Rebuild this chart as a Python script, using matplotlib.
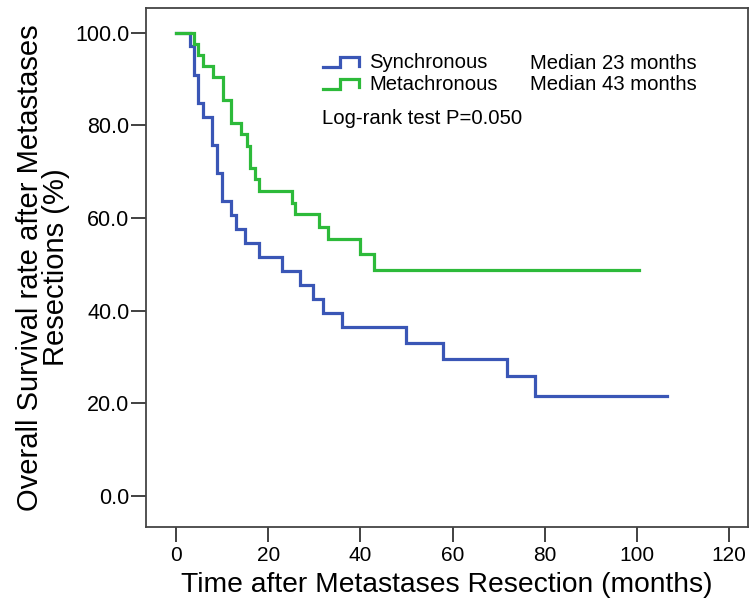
import matplotlib
matplotlib.use('Agg')
import matplotlib.pyplot as plt
from matplotlib.legend_handler import HandlerBase
from matplotlib.lines import Line2D
from matplotlib.ticker import FormatStrFormatter

plt.rcParams['font.family'] = ['Liberation Sans', 'DejaVu Sans']

# Kaplan-Meier curves (months, % surviving)
sync_time = [0, 3.0, 3.8, 4.8, 5.9, 7.9, 9.0, 9.9, 11.9, 13.0, 15.0, 17.9, 23.0,
             26.9, 29.8, 31.8, 35.9, 49.8, 57.8, 71.8, 77.8, 106.5]
sync_surv = [100, 97.0, 90.9, 84.8, 81.8, 75.8, 69.7, 63.6, 60.6, 57.6, 54.5, 51.5,
             48.5, 45.5, 42.4, 39.4, 36.4, 33.0, 29.6, 25.9, 21.6, 21.6]

meta_time = [0, 3.9, 4.8, 5.9, 8.1, 10.2, 12.0, 14.1, 15.3, 16.0, 17.1, 18.0, 25.2,
             25.9, 31.0, 33.0, 39.9, 42.9, 100.5]
meta_surv = [100, 97.6, 95.1, 92.7, 90.3, 85.4, 80.5, 78.0, 75.6, 70.7, 68.3, 65.8,
             63.3, 60.9, 58.1, 55.4, 52.2, 48.8, 48.8]

group_names = ['Synchronous', 'Metachronous']
medians = ['Median 23 months', 'Median 43 months']
pvalue_text = 'Log-rank test P=0.050'
x_ticks = [0, 20, 40, 60, 80, 100, 120]
y_ticks = [0, 20, 40, 60, 80, 100]

blue = '#3a56b6'
green = '#2dba3a'


class StepHandler(HandlerBase):
    # SPSS style little step glyph in the legend
    def create_artists(self, legend, orig_handle, xdescent, ydescent,
                       width, height, fontsize, trans):
        fx = [0, 0.48, 0.48, 1.0, 1.0]
        fy = [0.1, 0.1, 0.8, 0.8, 0.18]
        xs = [f * width - xdescent for f in fx]
        ys = [f * height - ydescent for f in fy]
        line = Line2D(xs, ys, color=orig_handle.get_color(),
                      lw=orig_handle.get_linewidth(),
                      solid_joinstyle='miter')
        line.set_transform(trans)
        return [line]


def main():
    fig = plt.figure(figsize=(7.5, 6.04), dpi=100)
    ax = fig.add_axes([0.1947, 0.1275, 0.8023, 0.8593])

    l1, = ax.step(sync_time, sync_surv, where='post', color=blue, lw=2.3,
                  solid_joinstyle='miter')
    l2, = ax.step(meta_time, meta_surv, where='post', color=green, lw=2.3,
                  solid_joinstyle='miter')

    ax.set_xlim(-6.5, 124)
    ax.set_ylim(-6.7, 105.3)
    ax.set_xticks(x_ticks)
    ax.set_yticks(y_ticks)
    ax.yaxis.set_major_formatter(FormatStrFormatter('%.1f'))
    ax.tick_params(axis='both', direction='out', length=11, width=1.3,
                   color='#333333')
    ax.tick_params(axis='x', labelsize=15, pad=3)
    ax.tick_params(axis='y', labelsize=15.5, pad=1)
    for sp in ax.spines.values():
        sp.set_linewidth(1.3)
        sp.set_color('#444444')

    ax.set_xlabel('Time after Metastases Resection (months)', fontsize=20.3,
                  labelpad=5)
    ax.set_ylabel('Overall Survival rate after Metastases\nResections (%)',
                  fontsize=21, labelpad=4, linespacing=0.9)

    ax.legend([l1, l2], group_names, handler_map={Line2D: StepHandler()},
              loc='upper left', bbox_to_anchor=(0.294, 0.9125),
              frameon=False, fontsize=14.6, handlelength=1.77,
              handletextpad=0.52, labelspacing=0.13, borderpad=0,
              borderaxespad=0)

    ax.text(0.638, 0.893, medians[0], transform=ax.transAxes, fontsize=14.6,
            va='center', ha='left')
    ax.text(0.638, 0.853, medians[1], transform=ax.transAxes, fontsize=14.6,
            va='center', ha='left')
    ax.text(0.293, 0.788, pvalue_text, transform=ax.transAxes, fontsize=14.6,
            va='center', ha='left')

    fig.savefig('out.png', dpi=100)


if __name__ == '__main__':
    main()
